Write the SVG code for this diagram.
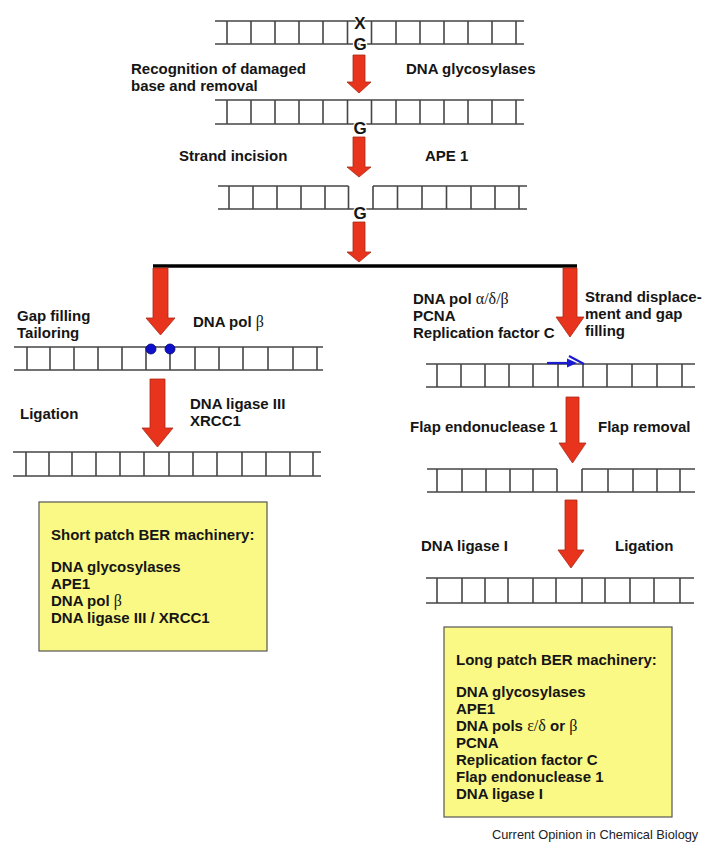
<svg xmlns="http://www.w3.org/2000/svg" width="705" height="843" viewBox="0 0 705 843">
<style>
.s{fill:none;stroke:#464646;stroke-width:1.6}
.t{font-family:"Liberation Sans",Arial,sans-serif;font-weight:bold;font-size:15px;fill:#151515}
.g{font-family:"Liberation Serif","Times New Roman",serif;font-weight:normal;font-size:16px;fill:#151515}
.base{font-family:"Liberation Sans",Arial,sans-serif;font-weight:bold;font-size:17px;fill:#151515;text-anchor:middle;stroke:#fff;stroke-width:2.5;paint-order:stroke}
.arr{fill:#e8341c;stroke:#a92a18;stroke-width:0.8}
.box{fill:#fbf985;stroke:#555;stroke-width:1.2}
</style>
<rect width="705" height="843" fill="#fff"/>

<g id="dna1">
<path class="s" d="M215 21H524M215 44H524M227 21V44M251 21V44M275 21V44M299 21V44M323 21V44M347.5 21V44M371.5 21V44M396 21V44M420 21V44M444 21V44M468 21V44M492 21V44M516 21V44"/>
<text class="base" x="360" y="29">X</text>
<text class="base" x="360" y="50">G</text>
</g>
<g id="dna2">
<path class="s" d="M215 100H524M215 124H524M227 100V124M251 100V124M275 100V124M299 100V124M323 100V124M347.5 100V124M371.5 100V124M396 100V124M420 100V124M444 100V124M468 100V124M492 100V124M516 100V124"/>
<text class="base" x="360" y="134">G</text>
</g>
<g id="dna3">
<path class="s" d="M218 186H348.5M373 186H527M218 209H527M229 186V209M253 186V209M277 186V209M301 186V209M325 186V209M348.5 186V209M373 186V209M397.5 186V209M422 186V209M446.5 186V209M471 186V209M495 186V209M519 186V209"/>
<text class="base" x="360" y="219">G</text>
</g>

<g id="label-recognition">
<text class="t" x="131" y="74">Recognition of damaged</text>
<text class="t" x="131" y="91">base and removal</text>
</g>
<g id="label-glycosylases"><text class="t" x="406" y="74">DNA glycosylases</text></g>
<g id="label-incision"><text class="t" x="179" y="161">Strand incision</text></g>
<g id="label-ape1"><text class="t" x="425" y="161">APE 1</text></g>

<g id="left-dna1">
<path class="s" d="M14 347H323M14 370H323M27 347V370M50 347V370M74 347V370M98 347V370M122 347V370M146 347V370M170 347V370M195 347V370M219 347V370M243 347V370M268 347V370M293 347V370M317 347V370"/>
<circle cx="151" cy="349" r="5" fill="#1010c8" stroke="#000080" stroke-width="0.8"/>
<circle cx="170" cy="349" r="5" fill="#1010c8" stroke="#000080" stroke-width="0.8"/>
</g>
<g id="left-dna2">
<path class="s" d="M13 452H321M13 476H321M26 452V476M49 452V476M72 452V476M96 452V476M120 452V476M144 452V476M169 452V476M193 452V476M217 452V476M242 452V476M266 452V476M290 452V476M313 452V476"/>
</g>
<g id="label-gapfilling">
<text class="t" x="17" y="321">Gap filling</text>
<text class="t" x="17" y="338">Tailoring</text>
</g>
<g id="label-polb"><text class="t" x="193" y="327">DNA pol <tspan class="g">β</tspan></text></g>
<g id="label-ligation-left"><text class="t" x="20" y="419">Ligation</text></g>
<g id="label-ligase3">
<text class="t" x="190" y="409">DNA ligase III</text>
<text class="t" x="190" y="426">XRCC1</text>
</g>
<g id="box-short">
<rect class="box" x="39" y="502" width="228" height="149"/>
<text class="t" x="51" y="540">Short patch BER machinery:</text>
<text class="t" x="51" y="572">DNA glycosylases</text>
<text class="t" x="51" y="589">APE1</text>
<text class="t" x="51" y="606">DNA pol <tspan class="g">β</tspan></text>
<text class="t" x="51" y="623">DNA ligase III / XRCC1</text>
</g>

<g id="right-dna1">
<path class="s" d="M426 364H695M426 387H695M437 364V387M461 364V387M485 364V387M509 364V387M533 364V387M558 364V387M583 364V387M607 364V387M632 364V387M657 364V387M682 364V387"/>
<path d="M547 363H570" stroke="#1a1ad0" stroke-width="2.2" fill="none"/>
<path d="M567 358.5L577 363L567 367.5Z" fill="#1a1ad0"/>
<path d="M569 356L584 364" stroke="#1a1ad0" stroke-width="2" fill="none"/>
</g>
<g id="right-dna2">
<path class="s" d="M427 469H557M582 469H695M427 492H695M437 469V492M462 469V492M486 469V492M510 469V492M533 469V492M557 469V492M582 469V492M608 469V492M633 469V492M657 469V492M680 469V492"/>
</g>
<g id="right-dna3">
<path class="s" d="M426 578H694M426 603H694M437 578V603M462 578V603M485 578V603M508 578V603M533 578V603M556 578V603M582 578V603M605 578V603M630 578V603M654 578V603M680 578V603"/>
</g>
<g id="label-pols">
<text class="t" x="413" y="304">DNA pol <tspan class="g">α/δ/β</tspan></text>
<text class="t" x="413" y="321">PCNA</text>
<text class="t" x="413" y="338">Replication factor C</text>
</g>
<g id="label-displacement">
<text class="t" x="585" y="302">Strand displace-</text>
<text class="t" x="585" y="319">ment and gap</text>
<text class="t" x="585" y="336">filling</text>
</g>
<g id="label-fen1"><text class="t" x="410" y="432">Flap endonuclease 1</text></g>
<g id="label-flapremoval"><text class="t" x="598" y="432">Flap removal</text></g>
<g id="label-ligase1"><text class="t" x="421" y="551">DNA ligase I</text></g>
<g id="label-ligation-right"><text class="t" x="615" y="551">Ligation</text></g>
<g id="box-long">
<rect class="box" x="444" y="627" width="228" height="190"/>
<text class="t" x="456" y="665">Long patch BER machinery:</text>
<text class="t" x="456" y="697">DNA glycosylases</text>
<text class="t" x="456" y="714">APE1</text>
<text class="t" x="456" y="731">DNA pols <tspan class="g">ε/δ</tspan> or <tspan class="g">β</tspan></text>
<text class="t" x="456" y="748">PCNA</text>
<text class="t" x="456" y="765">Replication factor C</text>
<text class="t" x="456" y="782">Flap endonuclease 1</text>
<text class="t" x="456" y="799">DNA ligase I</text>
</g>

<g id="connectors">
<path class="arr" d="M353 55H365V82H371L359 93L347 82H353Z"/>
<path class="arr" d="M353 137H365V167H371L359 177L347 167H353Z"/>
<path class="arr" d="M353 222H365V252H371L359 262L347 252H353Z"/>
<path d="M153 266H577" stroke="#000" stroke-width="3.5"/>
<path class="arr" d="M153 268H168V318H175L160.5 335L146 318H153Z"/>
<path class="arr" d="M150 379H165V428H173L157.5 447L142 428H150Z"/>
<path class="arr" d="M563 268H577V317H584L570 337L556 317H563Z"/>
<path class="arr" d="M566 397H579V443H586L572.5 463L559 443H566Z"/>
<path class="arr" d="M565 500H577V550H584L571 568L558 550H565Z"/>
</g>

<text x="492" y="839" font-family="'Liberation Sans',Arial,sans-serif" font-size="12.8" fill="#222">Current Opinion in Chemical Biology</text>
</svg>
